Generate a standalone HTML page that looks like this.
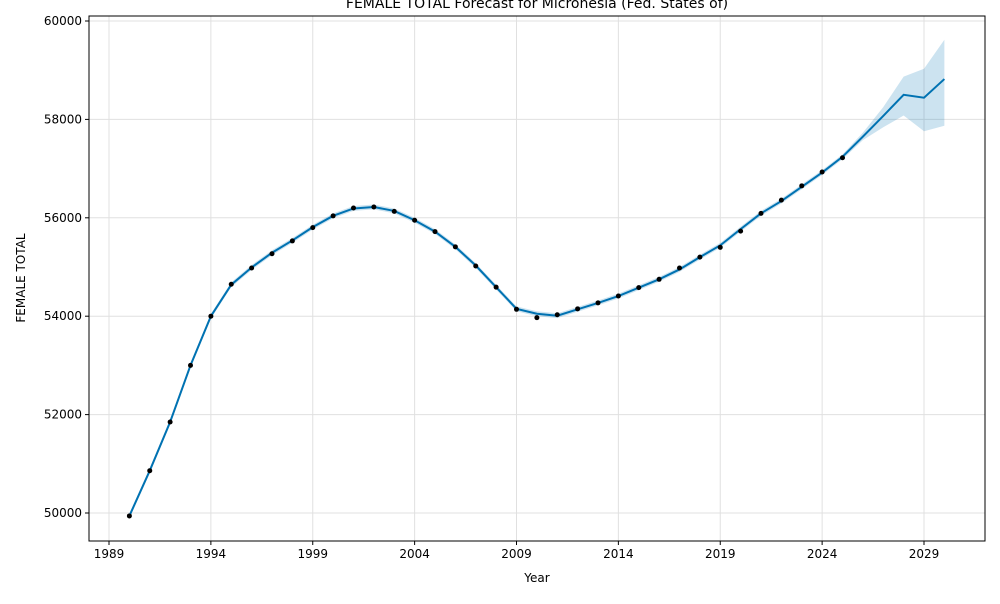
<!DOCTYPE html>
<html><head><meta charset="utf-8"><style>
body{margin:0;background:#fff;font-family:"DejaVu Sans","Liberation Sans",sans-serif}
svg text{font-family:"DejaVu Sans","Liberation Sans",sans-serif;font-size:12px;fill:#000}
</style></head><body>
<svg id="c" width="1000" height="600"></svg>
<script>
const years=[1990,1991,1992,1993,1994,1995,1996,1997,1998,1999,2000,2001,2002,2003,2004,2005,2006,2007,2008,2009,2010,2011,2012,2013,2014,2015,2016,2017,2018,2019,2020,2021,2022,2023,2024,2025];
const actual=[49940,50860,51850,53000,54000,54650,54980,55270,55530,55800,56040,56200,56220,56130,55950,55720,55410,55020,54590,54140,53970,54030,54150,54270,54410,54580,54750,54980,55200,55400,55730,56090,56360,56650,56930,57220];
const fitYears=[1990,1991,1992,1993,1994,1995,1996,1997,1998,1999,2000,2001,2002,2003,2004,2005,2006,2007,2008,2009,2010,2011,2012,2013,2014,2015,2016,2017,2018,2019,2020,2021,2022,2023,2024,2025,2026,2027,2028,2029,2030];
const fit=[49940,50860,51850,53000,54000,54640,54990,55290,55540,55810,56040,56190,56220,56140,55950,55720,55410,55030,54590,54150,54050,54010,54140,54270,54410,54580,54750,54950,55200,55440,55770,56090,56340,56630,56920,57240,57650,58070,58500,58440,58820];
const upper=[49990,50910,51900,53050,54050,54690,55040,55340,55590,55860,56090,56240,56270,56190,56000,55770,55460,55080,54640,54200,54100,54060,54190,54320,54460,54630,54800,55000,55250,55490,55820,56140,56390,56680,56970,57290,57730,58250,58870,59030,59620];
const lower=[49890,50810,51800,52950,53950,54590,54940,55240,55490,55760,55990,56140,56170,56090,55900,55670,55360,54980,54540,54100,54000,53960,54090,54220,54360,54530,54700,54900,55150,55390,55720,56040,56290,56580,56870,57190,57580,57840,58080,57760,57870];
const xTicks=[1989,1994,1999,2004,2009,2014,2019,2024,2029];
const yTicks=[50000,52000,54000,56000,58000,60000];
const L=89,R=985,T=16,B=541;
const x=v=>109+(v-1989)*20.375;
const y=v=>513-(v-50000)*(492/10000);
const s=document.getElementById('c');const ns='http://www.w3.org/2000/svg';
function mk(t,a,txt){const e=document.createElementNS(ns,t);for(const k in a)e.setAttribute(k,a[k]);if(txt!=null)e.textContent=txt;s.appendChild(e);return e;}
xTicks.forEach(t=>{const g=mk('line',{x1:x(t),x2:x(t),y1:T,y2:B,stroke:'#e0e0e0'});


mk('line',{x1:x(t),x2:x(t),y1:B,y2:B+4,stroke:'#000'});
const l=mk('text',{x:x(t),y:B+17,'text-anchor':'middle'},t);

});
yTicks.forEach(t=>{const g=mk('line',{x1:L,x2:R,y1:y(t),y2:y(t),stroke:'#e0e0e0'});


mk('line',{x1:L-4,x2:L,y1:y(t),y2:y(t),stroke:'#000'});
const l=mk('text',{x:L-7,y:y(t)+4,'text-anchor':'end'},t);

});
let d='M'+fitYears.map((v,i)=>x(v)+','+y(upper[i])).join('L');
for(let i=fitYears.length-1;i>=0;i--)d+='L'+x(fitYears[i])+','+y(lower[i]);
const band=mk('path',{d:d+'Z',fill:'#0072B2','fill-opacity':0.2,stroke:'none'});


const ln=mk('path',{d:'M'+fitYears.map((v,i)=>x(v)+','+y(fit[i])).join('L'),fill:'none',stroke:'#0072B2','stroke-width':2});


years.forEach((v,i)=>{const c=mk('circle',{cx:x(v),cy:y(actual[i]),r:2.5,fill:'#000'});

});
const fr=mk('rect',{x:L,y:T,width:R-L,height:B-T,fill:'none',stroke:'#000'});


const ti=mk('text',{x:537,y:8,'text-anchor':'middle',style:'font-size:14px'},'FEMALE TOTAL Forecast for Micronesia (Fed. States of)');


const xt=mk('text',{x:537,y:582,'text-anchor':'middle'},'Year');


const yt=mk('text',{x:25,y:278,'text-anchor':'middle',transform:'rotate(-90 25 278)'},'FEMALE TOTAL');


</script></body></html>
